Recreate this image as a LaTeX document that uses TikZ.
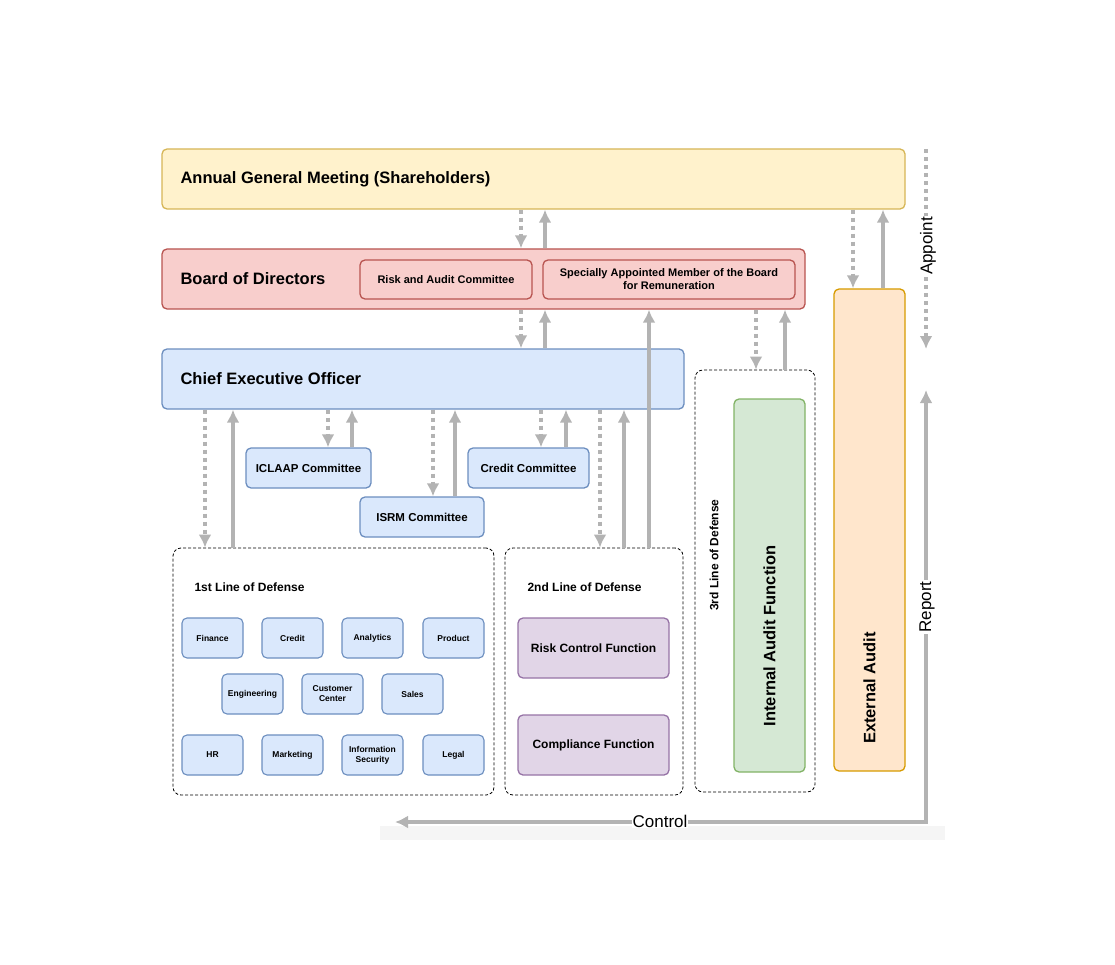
\documentclass[tikz,border=0pt]{standalone}
\usepackage{fontspec}
\setmainfont{Liberation Sans}
\usetikzlibrary{arrows.meta}
\begin{document}
\begin{tikzpicture}[x=1pt,y=-1pt,
  box/.style={draw, rounded corners=5pt, line width=1.3pt, inner sep=2pt, align=center, font=\bfseries},
  yel/.style={box, fill=yellow!18!white, fill={rgb,255:red,255;green,242;blue,204}, draw={rgb,255:red,214;green,182;blue,86}},
  red/.style={box, fill={rgb,255:red,248;green,206;blue,204}, draw={rgb,255:red,184;green,84;blue,80}},
  blu/.style={box, fill={rgb,255:red,218;green,232;blue,252}, draw={rgb,255:red,108;green,142;blue,191}},
  grn/.style={box, fill={rgb,255:red,213;green,232;blue,212}, draw={rgb,255:red,130;green,179;blue,102}},
  org/.style={box, fill={rgb,255:red,255;green,230;blue,204}, draw={rgb,255:red,215;green,155;blue,0}},
  pur/.style={box, fill={rgb,255:red,225;green,213;blue,231}, draw={rgb,255:red,150;green,115;blue,166}},
  grp/.style={draw, dashed, rounded corners=8pt, line width=0.8pt, dash pattern=on 3pt off 2pt},
  small/.style={blu, minimum width=61pt, minimum height=40pt, font=\bfseries\fontsize{8.5}{10}\selectfont, line width=1.1pt},
  up/.style={draw={rgb,255:red,179;green,179;blue,179}, line width=3.5pt, -{Latex[length=13pt,width=13pt]}},
  dn/.style={draw={rgb,255:red,179;green,179;blue,179}, line width=4pt, dash pattern=on 4pt off 4pt, -{Latex[length=13pt,width=13pt]}},
]
\useasboundingbox (0,0) rectangle (1115,965);
\fill[gray!8] (380,826) rectangle (945,840);
% main bars
\node[yel, minimum width=743pt, minimum height=60pt] (agm) at (533.5,179) {};
\node[font=\bfseries\fontsize{16.5}{20}\selectfont, anchor=west] (agmt) at (177,179) {Annual General Meeting (Shareholders)};
\node[red, minimum width=643pt, minimum height=60pt] (bd) at (483.5,279) {};
\node[font=\bfseries\fontsize{16.5}{20}\selectfont, anchor=west] (bdt) at (177,279) {Board of Directors};
\node[red, minimum width=172pt, minimum height=39pt, font=\bfseries\fontsize{11}{13}\selectfont] (rac) at (446,279.5) {Risk and Audit Committee};
\node[red, minimum width=252pt, minimum height=39pt, font=\bfseries\fontsize{11}{13}\selectfont] (sam) at (669,279.5) {Specially Appointed Member of the Board\\for Remuneration};
\node[blu, minimum width=522pt, minimum height=60pt] (ceo) at (423,379) {};
\node[font=\bfseries\fontsize{16.5}{20}\selectfont, anchor=west] (ceot) at (177,379) {Chief Executive Officer};
% committees
\node[blu, minimum width=125pt, minimum height=40pt, font=\bfseries\fontsize{11.5}{13}\selectfont] (icl) at (308.5,468) {ICLAAP Committee};
\node[blu, minimum width=121pt, minimum height=40pt, font=\bfseries\fontsize{11.5}{13}\selectfont] (cc) at (528.5,468) {Credit Committee};
\node[blu, minimum width=124pt, minimum height=40pt, font=\bfseries\fontsize{11.5}{13}\selectfont] (isrm) at (422,517) {ISRM Committee};
% groups
\node[grp, minimum width=321pt, minimum height=247pt] (l1) at (333.5,671.5) {};
\node[grp, minimum width=178pt, minimum height=247pt] (l2) at (594,671.5) {};
\node[grp, minimum width=120pt, minimum height=422pt] (l3) at (755,581) {};
\node[font=\bfseries\fontsize{12}{14}\selectfont, anchor=west] (l1t) at (191,587) {1st Line of Defense};
\node[font=\bfseries\fontsize{12}{14}\selectfont, anchor=west] (l2t) at (524,587) {2nd Line of Defense};
\node[font=\bfseries\fontsize{12}{14}\selectfont, rotate=90] (l3t) at (714,555) {3rd Line of Defense};
% 1st line boxes
\node[small] (fin) at (212.5,638) {Finance};
\node[small] (cre) at (292.5,638) {Credit};
\node[small] (ana) at (372.5,638) {Analytics};
\node[small] (pro) at (453.5,638) {Product};
\node[small] (eng) at (252.5,694) {Engineering};
\node[small] (cus) at (332.5,694) {Customer\\Center};
\node[small] (sal) at (412.5,694) {Sales};
\node[small] (hr) at (212.5,755) {HR};
\node[small] (mkt) at (292.5,755) {Marketing};
\node[small] (inf) at (372.5,755) {Information\\Security};
\node[small] (leg) at (453.5,755) {Legal};
% 2nd line
\node[pur, minimum width=151pt, minimum height=60pt, font=\bfseries\fontsize{12}{14}\selectfont] (rcf) at (593.5,648) {Risk Control Function};
\node[pur, minimum width=151pt, minimum height=60pt, font=\bfseries\fontsize{12}{14}\selectfont] (cf) at (593.5,745) {Compliance Function};
% audit
\node[grn, minimum width=71pt, minimum height=373pt] (iaf) at (769.5,585.5) {};
\node[font=\bfseries\fontsize{16.5}{20}\selectfont, rotate=90] (iaft) at (769.5,636) {Internal Audit Function};
\node[org, minimum width=71pt, minimum height=482pt] (ea) at (869.5,530) {};
\node[font=\bfseries\fontsize{16.5}{20}\selectfont, rotate=90] (eat) at (869.5,688) {External Audit};
% x coordinates
\foreach \n/\v in {a/521,b/545,c/205,d/233,e/328,f/352,g/433,h/455,i/541,j/566,k/600,l/624,m/649,n/756,o/785,p/853,q/883}
  \coordinate (x\n) at (\v,0);
\draw[dn] (agm.south -| xa) -- (bd.north -| xa);
\draw[up] (bd.north -| xb) -- (agm.south -| xb);
\draw[dn] (bd.south -| xa) -- (ceo.north -| xa);
\draw[up] (ceo.north -| xb) -- (bd.south -| xb);
\draw[dn] (ceo.south -| xc) -- (l1.north -| xc);
\draw[up] (l1.north -| xd) -- (ceo.south -| xd);
\draw[dn] (ceo.south -| xe) -- (icl.north -| xe);
\draw[up] (icl.north -| xf) -- (ceo.south -| xf);
\draw[dn] (ceo.south -| xg) -- (isrm.north -| xg);
\draw[up] (isrm.north -| xh) -- (ceo.south -| xh);
\draw[dn] (ceo.south -| xi) -- (cc.north -| xi);
\draw[up] (cc.north -| xj) -- (ceo.south -| xj);
\draw[dn] (ceo.south -| xk) -- (l2.north -| xk);
\draw[up] (l2.north -| xl) -- (ceo.south -| xl);
\draw[up] (l2.north -| xm) -- (bd.south -| xm);
\draw[dn] (bd.south -| xn) -- (l3.north -| xn);
\draw[up] (l3.north -| xo) -- (bd.south -| xo);
\draw[dn] (agm.south -| xp) -- (ea.north -| xp);
\draw[up] (ea.north -| xq) -- (agm.south -| xq);
% appoint / report / control
\coordinate (apt) at (926,149);
\coordinate (apb) at (926,349);
\coordinate (rpt) at (926,390);
\coordinate (cl) at (395,822);
\draw[dn] (apt) -- (apb);
\node[fill=white, inner sep=1pt, rotate=90, font=\fontsize{17}{20}\selectfont] (apl) at (928,246) {Appoint};
\draw[draw={rgb,255:red,179;green,179;blue,179}, line width=3.5pt, {Latex[length=13pt,width=13pt]}-{Latex[length=13pt,width=13pt]}] (rpt) |- (cl);
\node[fill=white, inner sep=1pt, rotate=90, font=\fontsize{17}{20}\selectfont] (rpl) at (927,607) {Report};
\node[fill=white, inner sep=1pt, font=\fontsize{17}{20}\selectfont] (ctl) at (660,821) {Control};
\end{tikzpicture}
\end{document}
